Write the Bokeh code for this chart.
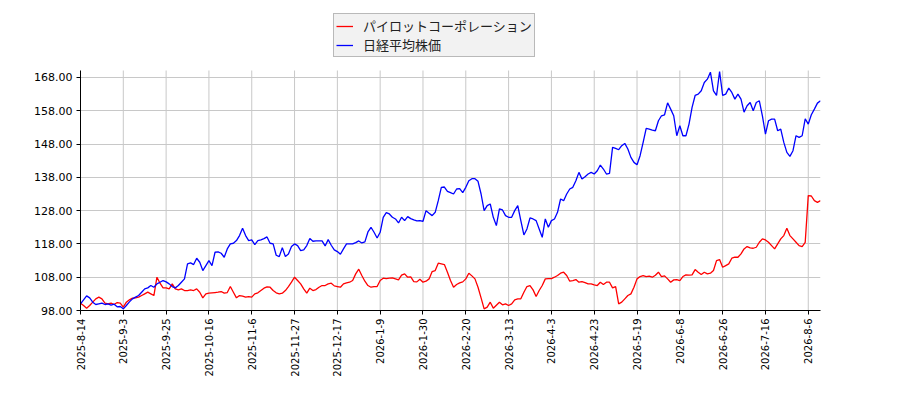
import math
from bokeh.plotting import figure
from bokeh.models import Range1d, FixedTicker, NumeralTickFormatter, Legend, LegendItem
from bokeh.embed import file_html
from bokeh.resources import INLINE

# tick dates (every 14 trading days)
tick_dates = ["2025-8-14", "2025-9-3", "2025-9-25", "2025-10-16", "2025-11-6",
              "2025-11-27", "2025-12-17", "2026-1-9", "2026-1-30", "2026-2-20",
              "2026-3-13", "2026-4-3", "2026-4-23", "2026-5-19", "2026-6-8",
              "2026-6-26", "2026-7-16", "2026-8-6"]

pilot = [100.2, 99.5, 98.7, 99.5, 100.5, 101.5, 102.0, 101.5, 100.2, 100.0,
         100.2, 99.8, 100.4, 100.2, 99.0, 100.5, 101.2, 101.7, 101.8, 102.0,
         102.5, 103.0, 103.5, 103.0, 102.5, 108.0, 106.2, 104.8, 104.8, 104.5,
         106.0, 104.5, 104.2, 104.5, 104.0, 104.0, 104.2, 104.0, 104.5, 103.5,
         101.8, 103.0, 103.2, 103.3, 103.4, 103.5, 103.7, 103.2, 103.4, 105.2,
         103.5, 101.8, 102.5, 102.3, 102.0, 102.2, 102.0, 103.0, 103.3, 104.0,
         104.7, 105.1, 105.0, 104.0, 103.3, 103.0, 103.2, 104.0, 105.2, 106.5,
         108.0, 107.0, 106.0, 104.5, 103.2, 104.7, 104.0, 104.3, 105.0, 105.5,
         105.5, 106.0, 106.2, 105.4, 105.2, 105.0, 106.0, 106.3, 106.5, 107.0,
         109.0, 110.4, 108.5, 106.8, 105.5, 105.0, 105.2, 105.2, 107.0, 107.7,
         107.6, 107.7, 107.8, 107.5, 107.2, 108.6, 109.0, 108.0, 108.1, 106.7,
         106.6, 107.4, 106.5, 106.8, 107.5, 109.7, 110.0, 112.2, 112.0, 111.8,
         109.5, 107.0, 105.0, 105.8, 106.3, 106.6, 107.5, 109.2, 108.4, 107.5,
         105.0, 101.8, 98.5, 99.0, 100.5, 98.7, 99.6, 100.5, 99.7, 100.0,
         99.5, 100.0, 101.2, 101.5, 101.5, 103.5, 105.2, 105.5, 104.2, 102.2,
         104.0, 105.5, 107.5, 107.6, 107.6, 108.0, 108.5, 109.2, 109.5, 108.5,
         106.8, 107.0, 107.3, 106.5, 106.7, 106.4, 106.0, 106.0, 105.7, 105.5,
         106.5, 105.8, 106.5, 106.5, 104.8, 105.2, 100.0, 100.5, 101.5, 102.5,
         103.0, 105.0, 107.5, 108.2, 108.5, 108.2, 108.3, 108.0, 108.6, 109.5,
         108.2, 108.4, 107.5, 106.5, 107.2, 107.3, 107.0, 108.2, 108.7, 108.6,
         108.7, 110.3, 109.5, 108.8, 109.5, 109.0, 109.2, 110.0, 113.0, 113.3,
         111.0, 111.5, 112.0, 113.7, 114.0, 114.0, 115.0, 116.5, 117.2, 116.8,
         116.7, 117.0, 118.5, 119.5, 119.2, 118.5, 117.5, 116.5, 118.0, 119.5,
         120.5, 122.7, 120.5, 119.5, 118.5, 117.5, 117.2, 118.5, 132.5, 132.4,
         131.0, 130.5, 131.0]

nikkei = [100.0, 101.2, 102.4, 101.8, 100.5, 99.8, 100.0, 100.2, 99.8, 100.0,
          99.6, 99.9, 99.1, 99.2, 98.5, 99.5, 100.6, 101.5, 102.0, 102.5,
          103.5, 104.5, 104.8, 105.5, 105.0, 106.0, 106.5, 107.0, 106.6, 106.0,
          105.2, 104.8, 105.5, 106.5, 107.5, 112.0, 112.3, 111.8, 113.7, 112.5,
          110.0, 111.5, 113.0, 111.5, 115.5, 115.6, 115.2, 114.0, 116.5, 118.0,
          118.2, 119.0, 120.5, 122.7, 120.5, 119.0, 119.2, 117.8, 119.0, 119.2,
          119.6, 120.1, 118.2, 118.0, 114.6, 114.2, 116.9, 114.2, 115.0, 117.2,
          118.0, 117.5, 116.0, 116.2, 117.5, 119.6, 118.8, 118.9, 118.9, 118.9,
          117.4, 119.3, 117.6, 116.2, 115.7, 114.9, 116.5, 118.0, 118.0, 118.0,
          118.4, 118.9, 118.3, 118.6, 121.6, 123.0, 121.5, 119.8, 121.5, 126.0,
          127.4, 127.0, 126.0, 125.5, 124.3, 126.0, 125.0, 126.2, 125.6, 125.2,
          124.9, 125.0, 124.8, 128.0, 127.2, 126.5, 127.5, 131.0, 135.0, 135.1,
          133.8, 133.4, 133.0, 134.5, 134.6, 133.4, 135.0, 137.0, 137.6, 137.6,
          136.8, 133.0, 128.0, 129.5, 130.0, 126.0, 123.5, 128.5, 128.2, 126.5,
          126.0, 126.0, 128.0, 129.5, 125.0, 120.7, 122.5, 125.8, 125.5, 125.0,
          122.5, 120.0, 125.5, 123.0, 125.0, 125.5, 127.5, 131.5, 131.0, 133.0,
          134.5, 135.0, 137.0, 139.5, 137.5, 138.2, 139.0, 139.5, 139.0, 140.0,
          141.7, 140.5, 139.0, 139.2, 147.0, 146.7, 146.3, 147.5, 148.2, 146.5,
          144.0, 142.5, 141.8, 144.5, 148.5, 152.7, 152.5, 152.2, 152.0, 155.0,
          156.5, 156.8, 160.4, 158.5, 156.5, 150.5, 153.5, 150.5, 150.5, 154.0,
          159.0, 162.6, 163.0, 164.0, 166.5, 167.5, 169.6, 164.0, 162.6, 169.8,
          162.6, 163.0, 164.8, 163.5, 161.5, 163.0, 161.5, 157.6, 159.5, 160.5,
          158.0, 160.5, 161.0, 156.5, 151.0, 155.0, 155.5, 155.5, 152.0, 152.5,
          148.5, 145.5, 144.3, 146.0, 150.5, 150.0, 150.5, 155.6, 154.0, 156.8,
          158.5, 160.3, 161.0]

y_ticks = [98, 108, 118, 128, 138, 148, 158, 168]
y_lo, y_hi = 98, 170.1

xs = list(range(len(pilot)))
tick_pos = list(range(0, len(pilot), 14))

# the frame reaches the top of the canvas so the legend can sit above the axes area
p = figure(width=884, height=384, output_backend="svg", toolbar_location=None,
           x_range=Range1d(0, len(pilot) - 1), y_range=Range1d(y_lo, y_lo + (y_hi - y_lo) * 310 / 240),
           min_border_left=80, min_border_right=64, min_border_top=0, min_border_bottom=74)
p.outline_line_color = None
p.background_fill_color = "white"

# vertical grid only over the axes area
p.xgrid.visible = False
p.segment(x0=tick_pos, y0=[y_lo] * len(tick_pos), x1=tick_pos, y1=[y_hi] * len(tick_pos),
          line_color="#c8c8c8", line_width=1)
p.ygrid.ticker = FixedTicker(ticks=y_ticks)
p.ygrid.grid_line_color = "#c8c8c8"

r1 = p.line(xs, pilot, line_color="#ff0000", line_width=1.3)
r2 = p.line(xs, nikkei, line_color="#0000ff", line_width=1.3)

p.xaxis.ticker = FixedTicker(ticks=tick_pos)
p.xaxis.major_label_overrides = {t: d for t, d in zip(tick_pos, tick_dates)}
p.xaxis.major_label_orientation = math.pi / 2
p.yaxis.ticker = FixedTicker(ticks=y_ticks)
p.yaxis.formatter = NumeralTickFormatter(format="0.00")
p.yaxis.bounds = (y_lo, y_hi)

for ax in (p.xaxis[0], p.yaxis[0]):
    ax.axis_line_color = "black"
    ax.axis_line_width = 1
    ax.major_tick_line_color = "black"
    ax.major_tick_in = 0
    ax.major_tick_out = 4
    ax.minor_tick_line_color = None
    ax.major_label_text_font = "DejaVu Sans"
    ax.major_label_text_color = "black"
    ax.major_label_standoff = 4
p.xaxis.major_label_text_font_size = "10px"
p.yaxis.major_label_text_font_size = "11px"

legend = Legend(items=[LegendItem(label="パイロットコーポレーション", renderers=[r1]),
                       LegendItem(label="日経平均株価", renderers=[r2])],
                location=(253, 253), orientation="vertical")
legend.label_text_font = "Noto Sans CJK JP"
legend.label_text_font_size = "13px"
legend.label_text_line_height = 1.0
legend.label_text_color = "#222222"
legend.border_line_color = "#808080"
legend.border_line_width = 1
legend.background_fill_color = "#f2f2f2"
legend.background_fill_alpha = 1
legend.padding = 2
legend.margin = 0
legend.spacing = 0
legend.glyph_width = 17
legend.glyph_height = 12
legend.label_standoff = 10
legend.label_height = 12
p.add_layout(legend, "center")

open("out.html", "w").write(file_html(p, INLINE))
